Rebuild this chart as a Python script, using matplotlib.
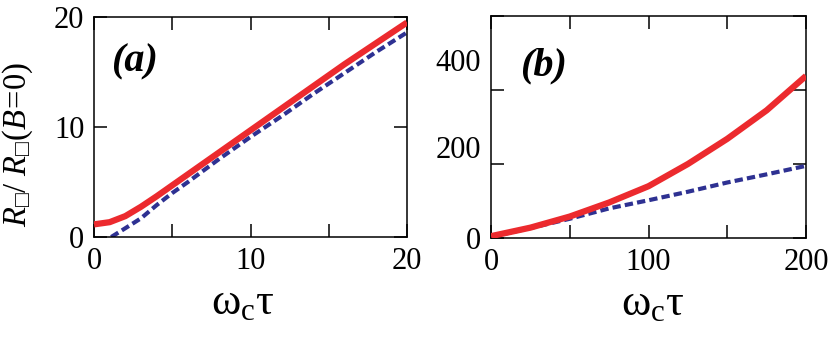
import matplotlib
matplotlib.use("Agg")
import matplotlib.pyplot as plt
from matplotlib.transforms import ScaledTranslation

plt.rcParams['font.family'] = ['Liberation Serif', 'DejaVu Serif']
plt.rcParams['mathtext.fontset'] = 'custom'
plt.rcParams['mathtext.rm'] = 'Liberation Serif'
plt.rcParams['mathtext.it'] = 'Liberation Serif:italic'
plt.rcParams['mathtext.bf'] = 'Liberation Serif:bold'

# panel (a): small omega_c tau
xa_red = [0, 1, 2, 3, 4, 5, 6, 8, 10, 12, 14, 16, 18, 20]
ya_red = [1.15, 1.35, 1.9, 2.75, 3.7, 4.7, 5.7, 7.7, 9.7, 11.7, 13.7, 15.7, 17.6, 19.5]
xa_blue = [1.1, 2, 3, 4, 5, 6, 8, 10, 12, 14, 16, 18, 20]
ya_blue = [0.0, 0.8, 1.7, 2.9, 4.0, 5.0, 7.1, 9.1, 11.0, 13.0, 14.9, 16.8, 18.6]

# panel (b): large omega_c tau
xb_red = [0, 25, 50, 75, 100, 125, 150, 175, 200]
yb_red = [5, 28, 58, 96, 140, 200, 268, 345, 438]
xb_blue = [0, 25, 50, 75, 100, 125, 150, 175, 200]
yb_blue = [3, 27, 52, 80, 102, 125, 150, 172, 195]

red = '#ec2a2e'
blue = '#2e3192'

fig = plt.figure(figsize=(8.3, 3.4), dpi=100)
ax1 = fig.add_axes([0.1133, 0.3029, 0.3771, 0.6471])
ax2 = fig.add_axes([0.5916, 0.30, 0.3795, 0.653])

for ax in (ax1, ax2):
    for s in ax.spines.values():
        s.set_linewidth(1.1)
    ax.tick_params(direction='in', top=True, right=True, length=9.5, width=1.1,
                   labelsize=22, pad=7)

# (a)
ax1.plot(xa_red, ya_red, color=red, lw=4.5, solid_capstyle='butt', zorder=3)
ax1.plot(xa_blue, ya_blue, color=blue, lw=3.0, dashes=(2, 1), zorder=2)
ax1.set_xlim(0, 20)
ax1.set_ylim(0, 20)
ax1.set_xticks([0, 5, 10, 15, 20], ['0', '', '10', '', '20'])
ax1.set_yticks([0, 10, 20])
ax1.text(0.13, 0.795, '(a)', transform=ax1.transAxes, fontsize=29,
         fontweight='bold', fontstyle='italic', ha='center', va='center')
ax1.set_xlabel('$\\mathrm{ω_cτ}$', fontsize=32)
ax1.xaxis.set_label_coords(0.476, -0.21)
ax1.set_ylabel('$R_{□}$/ $R_{□}(B\\!=\\!0)$', fontsize=23.5)
ax1.yaxis.set_label_coords(-0.19, 0.42)

# (b)
ax2.plot(xb_red, yb_red, color=red, lw=4.5, solid_capstyle='butt', zorder=3)
ax2.plot(xb_blue, yb_blue, color=blue, lw=3.0, dashes=(2, 1), zorder=2)
ax2.set_xlim(0, 200)
ax2.set_ylim(0, 600)
ax2.set_xticks([0, 50, 100, 150, 200], ['0', '', '100', '', '200'])
ax2.set_yticks([0, 200, 400, 600], ['0', '200', '400', ''])
# the original tick labels sit a bit above their ticks
for lab, dy in zip(ax2.get_yticklabels(), [0, 17, 30, 0]):
    lab.set_transform(lab.get_transform() + ScaledTranslation(0, dy / 100, fig.dpi_scale_trans))
ax2.text(0.165, 0.775, '(b)', transform=ax2.transAxes, fontsize=29,
         fontweight='bold', fontstyle='italic', ha='center', va='center')
ax2.set_xlabel('$\\mathrm{ω_cτ}$', fontsize=32)
ax2.xaxis.set_label_coords(0.514, -0.205)

fig.savefig('out.png', dpi=100)
